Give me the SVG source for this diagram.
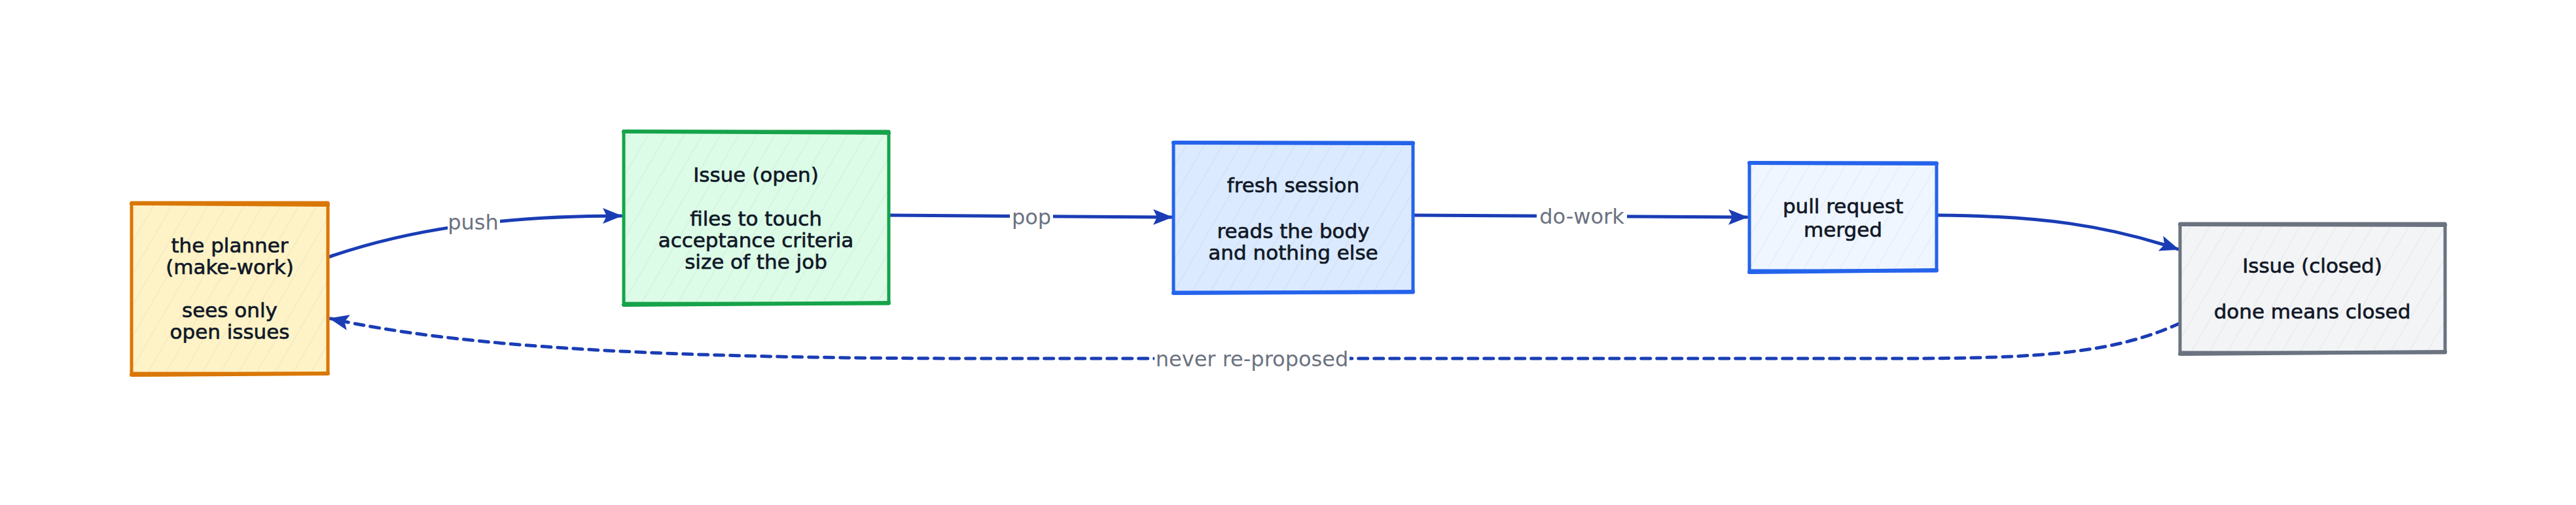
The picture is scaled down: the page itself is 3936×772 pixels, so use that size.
<svg xmlns="http://www.w3.org/2000/svg" width="3936" height="772" viewBox="0 0 3936 772">
<style>
.node-text{font-family:"DejaVu Sans","Liberation Sans",sans-serif;font-size:31px;fill:#111827;stroke:#111827;stroke-width:0.7;text-anchor:middle}
.lbl{font-family:"DejaVu Sans","Liberation Sans",sans-serif;font-size:32px;fill:#6b7280;text-anchor:middle}
.edge{fill:none;stroke:#1a3db5;stroke-width:5;stroke-linecap:round}
.dash{stroke-dasharray:14 10}
.hatch{fill:url(#hatch);stroke:none}
.box{stroke-width:5;stroke-linejoin:round}
.thick{fill:none;stroke-width:6;stroke-linecap:round}
</style>
<defs>
<pattern id="hatch" patternUnits="userSpaceOnUse" width="24" height="24" patternTransform="rotate(30)">
<line x1="0" y1="0" x2="0" y2="24" stroke="#000" stroke-opacity="0.07" stroke-width="1.5"/>
</pattern>
<marker id="arrow" viewBox="0 0 30 24" refX="28" refY="12" markerWidth="30" markerHeight="24" markerUnits="userSpaceOnUse" orient="auto">
<path d="M0,0 L30,12 L0,24 L6,12 Z" fill="#1a3db5"/>
</marker>
</defs>
<rect width="3936" height="772" fill="#ffffff"/>

<g id="connectors">
<path class="edge" d="M502,393 C620,352 760,330 949,330" marker-end="url(#arrow)"/>
<path class="edge" d="M1358,329 L1790,332" marker-end="url(#arrow)"/>
<path class="edge" d="M2160,329 L2669,332" marker-end="url(#arrow)"/>
<path class="edge" d="M2960,329 C3120,330 3220,345 3328,381" marker-end="url(#arrow)"/>
<path class="edge dash" d="M3331,494 C3230,540 3120,548 2900,548 L1500,548 C1000,548 700,530 505,487" marker-end="url(#arrow)"/>
<rect x="684" y="318" width="80" height="42" fill="#ffffff"/>
<text class="lbl" x="723" y="351">push</text>
<rect x="1543" y="312" width="66" height="42" fill="#ffffff"/>
<text class="lbl" x="1576" y="343">pop</text>
<rect x="2348" y="310" width="138" height="42" fill="#ffffff"/>
<text class="lbl" x="2417" y="342">do-work</text>
<rect x="1764" y="528" width="298" height="44" fill="#ffffff"/>
<text class="lbl" x="1913" y="560">never re-proposed</text>
</g>

<g id="planner">
<rect class="box" x="201" y="310" width="300" height="261" fill="#fef3c7" stroke="#d97706"/>
<rect class="hatch" x="203" y="312" width="296" height="257"/>
<path class="thick" d="M201,573 L501,571" stroke="#d97706"/>
<path class="thick" d="M201,311 L501,313" stroke="#d97706"/>
<text class="node-text" x="351" y="386">the planner</text>
<text class="node-text" x="351" y="419">(make-work)</text>
<text class="node-text" x="351" y="485">sees only</text>
<text class="node-text" x="351" y="518">open issues</text>
</g>

<g id="issue-open">
<rect class="box" x="953" y="201" width="405" height="263" fill="#dcfce7" stroke="#16a34a"/>
<rect class="hatch" x="955" y="203" width="401" height="259"/>
<path class="thick" d="M953,466 L1358,463" stroke="#16a34a"/>
<path class="thick" d="M953,201 L1358,203" stroke="#16a34a"/>
<text class="node-text" x="1155" y="278">Issue (open)</text>
<text class="node-text" x="1155" y="345">files to touch</text>
<text class="node-text" x="1155" y="378">acceptance criteria</text>
<text class="node-text" x="1155" y="411">size of the job</text>
</g>

<g id="fresh-session">
<rect class="box" x="1793" y="218" width="366" height="229" fill="#dbeafe" stroke="#2563eb"/>
<rect class="hatch" x="1795" y="220" width="362" height="225"/>
<path class="thick" d="M1793,448 L2159,446" stroke="#2563eb"/>
<path class="thick" d="M1793,218 L2159,219" stroke="#2563eb"/>
<text class="node-text" x="1976" y="294">fresh session</text>
<text class="node-text" x="1976" y="364">reads the body</text>
<text class="node-text" x="1976" y="397">and nothing else</text>
</g>

<g id="pull-request">
<rect class="box" x="2673" y="249" width="286" height="165" fill="#eff6ff" stroke="#2563eb"/>
<rect class="hatch" x="2675" y="251" width="282" height="161"/>
<path class="thick" d="M2673,416 L2959,413" stroke="#2563eb"/>
<path class="thick" d="M2673,249 L2959,250" stroke="#2563eb"/>
<text class="node-text" x="2816" y="326">pull request</text>
<text class="node-text" x="2816" y="362">merged</text>
</g>

<g id="issue-closed">
<rect class="box" x="3331" y="342" width="405" height="197" fill="#f3f4f6" stroke="#6b7280"/>
<rect class="hatch" x="3333" y="344" width="401" height="193"/>
<path class="thick" d="M3331,541 L3736,538" stroke="#6b7280"/>
<path class="thick" d="M3331,343 L3736,344" stroke="#6b7280"/>
<text class="node-text" x="3533" y="417">Issue (closed)</text>
<text class="node-text" x="3533" y="487">done means closed</text>
</g>
</svg>
